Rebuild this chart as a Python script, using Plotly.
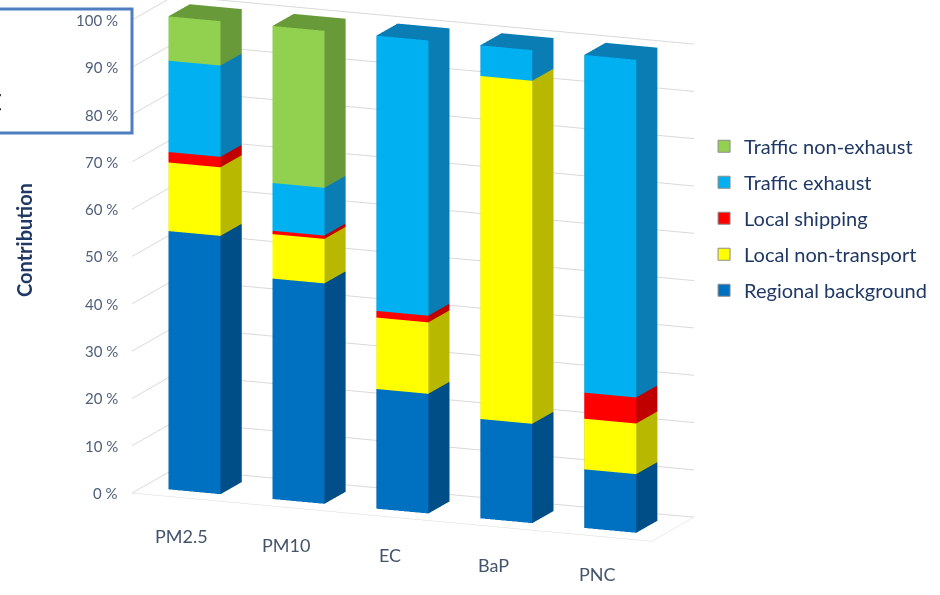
import plotly.graph_objects as go
import numpy as np

# ---------------- data ----------------
categories = ["PM2.5", "PM10", "EC", "BaP", "PNC"]
# stacked from bottom to top
regional_background = [54.6, 46.6, 25.3, 21.0, 12.4]
local_non_transport = [14.5, 9.4, 15.1, 72.5, 10.7]
local_shipping = [2.2, 0.7, 1.4, 0.0, 5.5]
traffic_exhaust = [19.3, 10.1, 58.2, 6.5, 71.4]
traffic_non_exhaust = [9.4, 33.2, 0.0, 0.0, 0.0]

series = [
    ("Regional background", regional_background, "#0070C0", "#004E87"),
    ("Local non-transport", local_non_transport, "#FFFF00", "#B8B800"),
    ("Local shipping", local_shipping, "#FF0000", "#C00000"),
    ("Traffic exhaust", traffic_exhaust, "#00B0F0", "#0A7DB4"),
    ("Traffic non-exhaust", traffic_non_exhaust, "#92D050", "#699A3A"),
]
z_ticks = list(range(0, 101, 10))
z_ticktext = [f"{v} %" for v in z_ticks]

BAR_HALF = 0.25       # half width of bars in category units
Y0, Y1 = 0.25, 0.75   # depth extent of bars
X_MIN, X_MAX = -0.5, len(categories) - 0.5

fig = go.Figure()

base = np.zeros(len(categories))
for name, vals, front, side in series:
    xs, ys, zs, ii, jj, kk, fc = [], [], [], [], [], [], []
    for ci, v in enumerate(vals):
        if v <= 0:
            continue
        z0, z1 = base[ci], base[ci] + v
        x0, x1 = ci - BAR_HALF, ci + BAR_HALF
        n = len(xs)
        for (cx, cy, cz) in [(x0, Y0, z0), (x1, Y0, z0), (x1, Y1, z0), (x0, Y1, z0),
                             (x0, Y0, z1), (x1, Y0, z1), (x1, Y1, z1), (x0, Y1, z1)]:
            xs.append(cx); ys.append(cy); zs.append(cz)
        faces = [
            ((0, 1, 5), front), ((0, 5, 4), front),      # front (y=Y0)
            ((1, 2, 6), side), ((1, 6, 5), side),        # right (x=x1)
            ((4, 5, 6), side), ((4, 6, 7), side),        # top
            ((0, 3, 7), side), ((0, 7, 4), side),        # left
            ((3, 2, 6), side), ((3, 6, 7), side),        # back
        ]
        for (a, b, c), col in faces:
            ii.append(n + a); jj.append(n + b); kk.append(n + c); fc.append(col)
    base = base + np.array(vals)
    fig.add_trace(go.Mesh3d(
        x=xs, y=ys, z=zs, i=ii, j=jj, k=kk, facecolor=fc,
        flatshading=True, showlegend=False, hoverinfo="skip",
        lighting=dict(ambient=1.0, diffuse=0.0, specular=0.0, roughness=1.0, fresnel=0.0),
    ))

# legend entries (top to bottom as in the reference)
for name, vals, front, side in reversed(series):
    fig.add_trace(go.Scatter3d(
        x=[None], y=[None], z=[None], mode="markers", name=name,
        legendgroup=name,
        marker=dict(symbol="square", size=12, color=front,
                    line=dict(color="#8c8c8c", width=1)),
    ))

FONT = "Lato, Open Sans, sans-serif"
axis_font = dict(family=FONT, color="#44546A")

# axis labels anchored in scene (data) coordinates
scene_ann = []
for ci, cat in enumerate(categories):
    scene_ann.append(dict(x=ci, y=0, z=0, text=cat, showarrow=False,
                          yshift=-38, xshift=-2,
                          font=dict(size=18, **axis_font)))
for v, t in zip(z_ticks, z_ticktext):
    scene_ann.append(dict(x=X_MIN, y=0, z=v, text=t, showarrow=False,
                          xanchor="right", xshift=-12,
                          font=dict(size=15, color="#50607A", family=FONT)))

fig.update_layout(
    width=940, height=595,
    margin=dict(l=0, r=0, t=0, b=0),
    paper_bgcolor="white",
    font=dict(family=FONT),
    scene=dict(
        domain=dict(x=[0.0043, 0.8743], y=[0.0, 1.0]),
        aspectmode="manual",
        aspectratio=dict(x=1.884, y=0.38, z=1.634),
        camera=dict(
            projection=dict(type="orthographic"),
            eye=dict(x=0.737, y=-1.823, z=0.364),
            up=dict(x=0, y=0, z=1),
            center=dict(x=0, y=0, z=-0.100),
        ),
        xaxis=dict(range=[X_MIN, X_MAX], showticklabels=False,
                   showgrid=False, zeroline=False,
                   showbackground=False, showline=True, linecolor="#d9d9d9",
                   title=dict(text=""), ticks="", showspikes=False),
        yaxis=dict(range=[0, 1], showticklabels=False, showgrid=False,
                   zeroline=False, showbackground=False, showline=True,
                   linecolor="#d9d9d9", title=dict(text=""), showspikes=False,
                   ticks=""),
        zaxis=dict(range=[0, 100], tickvals=z_ticks, showticklabels=False,
                   showgrid=True, gridcolor="#d9d9d9", zeroline=False,
                   showbackground=False, title=dict(text=""),
                   ticks="", showspikes=False),
        bgcolor="white",
        annotations=scene_ann,
    ),
    legend=dict(x=0.749, y=0.787, xanchor="left", yanchor="top",
                font=dict(size=20, color="#1F3864", family=FONT),
                tracegroupgap=7, bgcolor="rgba(0,0,0,0)", itemclick=False),
    shapes=[dict(type="rect", xref="paper", yref="paper",
                 x0=-0.01, x1=132 / 940, y0=1 - 133 / 595, y1=1 - 9 / 595,
                 line=dict(color="#4F7EC0", width=3))],
    annotations=[
        dict(text="<b>Contribution</b>", x=24 / 940, y=1 - 240 / 595,
             xref="paper", yref="paper", showarrow=False, textangle=-90,
             xanchor="center", yanchor="middle",
             font=dict(size=20, color="#1F3864", family=FONT)),
        dict(text="t", x=4 / 940, y=1 - 99 / 595, xref="paper", yref="paper",
             xanchor="right", yanchor="middle", showarrow=False,
             font=dict(size=32, color="black", family=FONT)),
    ],
)

fig.write_html("out.html", config={"displayModeBar": False},
               post_script="document.body.style.margin='0';")
